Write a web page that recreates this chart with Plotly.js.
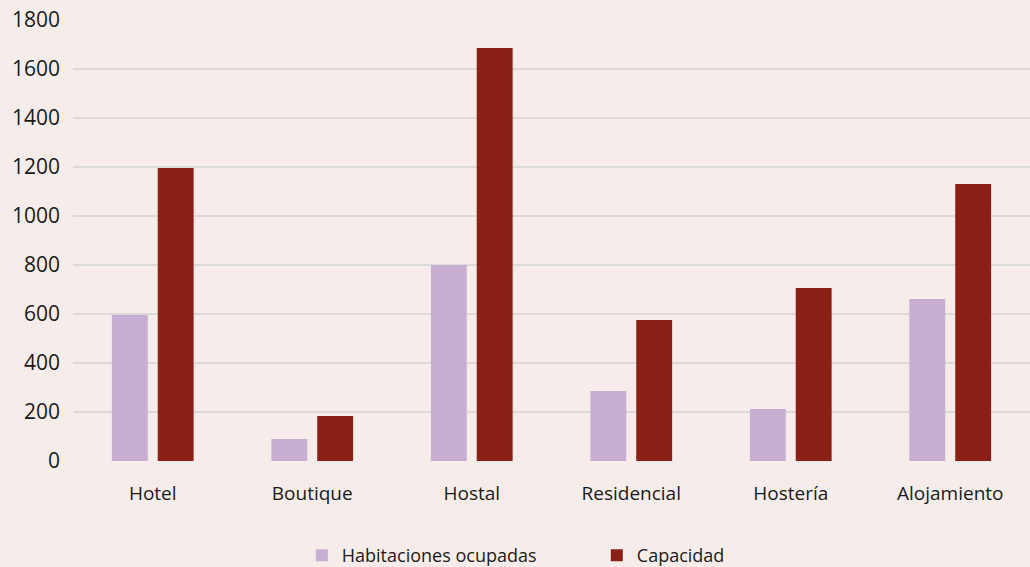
<!DOCTYPE html>
<html>
<head>
<meta charset="utf-8">
<script src="https://cdn.plot.ly/plotly-3.0.1.min.js"></script>
<style>html,body{margin:0;padding:0;background:#F6EDEA;}#chart{width:1030px;height:567px;}</style>
</head>
<body>
<div id="chart"></div>
<script>
const categories = ["Hotel", "Boutique", "Hostal", "Residencial", "Hostería", "Alojamiento"];
const habitacionesOcupadas = [596, 90, 800, 286, 212, 661];
const capacidad = [1196, 184, 1686, 576, 706, 1131];
const yTicks = [0, 200, 400, 600, 800, 1000, 1200, 1400, 1600, 1800];

const fontFam = "Open Sans, sans-serif";
const traces = [
  {type: "bar", name: "Habitaciones ocupadas", x: categories, y: habitacionesOcupadas,
   marker: {color: "#C8AED3"}, hoverinfo: "none"},
  {type: "bar", name: "Capacidad", x: categories, y: capacidad,
   marker: {color: "#8B2016"}, hoverinfo: "none"}
];
const layout = {
  width: 1030, height: 567,
  margin: {l: 73, r: 0, t: 20, b: 106},
  paper_bgcolor: "#F6EDEA", plot_bgcolor: "#F6EDEA",
  font: {family: fontFam, size: 18, color: "#1a1a1a"},
  barmode: "group", bargap: 0.425, bargroupgap: 0.217,
  xaxis: {showgrid: false, zeroline: false, showline: false, ticks: "",
          ticklabelstandoff: 19, tickfont: {size: 19}},
  yaxis: {range: [0, 1800], tickvals: yTicks, ticktext: yTicks.map(String),
          showgrid: true, gridcolor: "#DCDAD8", gridwidth: 2, zeroline: false,
          showline: false, ticks: "", ticklabelstandoff: 12, tickfont: {size: 21}},
  showlegend: true,
  legend: {orientation: "h", x: 0.293, xanchor: "left", xref: "container",
           y: 0.02, yanchor: "middle", yref: "container",
           entrywidth: 250, font: {size: 18}, bgcolor: "rgba(0,0,0,0)"}
};
Plotly.newPlot("chart", traces, layout, {staticPlot: true, displayModeBar: false});
</script>
</body>
</html>
